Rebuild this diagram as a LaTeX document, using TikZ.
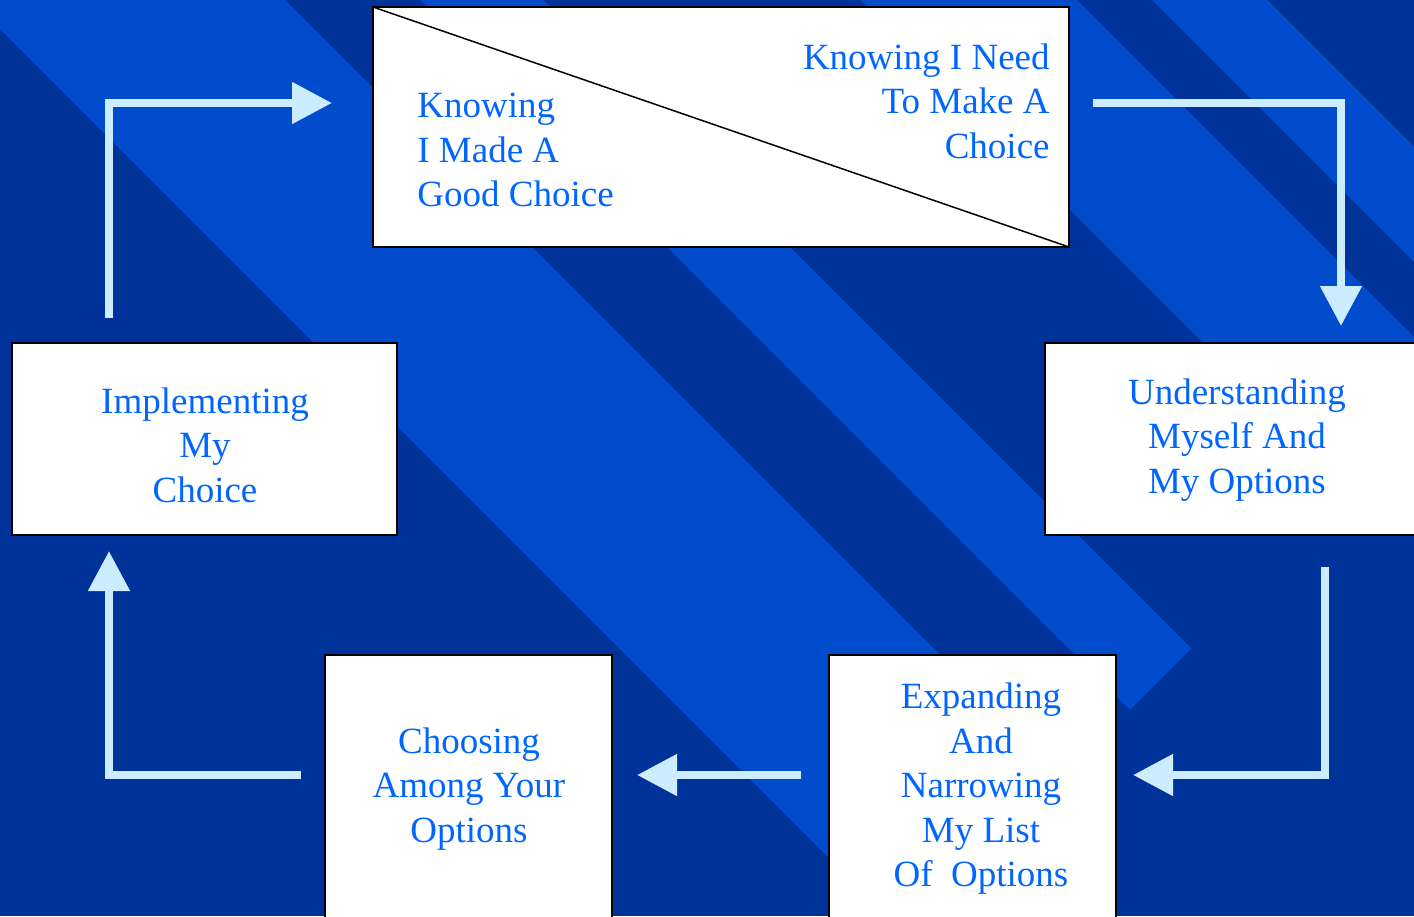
\documentclass[tikz,border=0pt]{standalone}
\usepackage{fontspec}
\setmainfont{Liberation Serif}
\usepackage{tikz}
\definecolor{bgdark}{RGB}{0,51,153}
\definecolor{bglight}{RGB}{0,76,204}
\definecolor{flowcol}{RGB}{204,236,255}
\definecolor{textblue}{RGB}{0,102,255}
\usetikzlibrary{calc, arrows.meta}
\tikzset{%
  stage/.style={draw=black, line width=1pt, fill=white, rectangle, inner sep=0pt, outer sep=0pt},% white step box
  steptext/.style={text=textblue, inner sep=0pt, align=center,
    font=\fontsize{18.5pt}{22.25pt}\selectfont},% blue text in a box
  flow/.style={draw=flowcol, line width=4pt, -{Triangle[length=20pt, width=20pt]}},% light connector
  stripe/.style={fill=bglight, draw=none}% light diagonal band
}

\begin{document}
\begin{tikzpicture}[x=0.5pt, y=-0.5pt]
\useasboundingbox (0,0) rectangle (1414,916);
\clip (0,0) rectangle (1414,916);
% background
\fill[bgdark] (0,0) rectangle (1414,916);
\fill[stripe] (0,0) -- (285,0) -- (1062.5,777.5) -- (905.5,934.5) -- (0,29) -- cycle;
\fill[stripe] (420,0) -- (543,0) -- (1191.5,648.5) -- (1130,710) -- cycle;
\fill[stripe] (860,0) -- (1077,0) -- (1458.5,381.5) -- (1350,490) -- cycle;
\fill[stripe] (1152,0) -- (1267,0) -- (1500,233) -- (1500,348) -- cycle;

% boxes
\node[stage, minimum width=348pt, minimum height=120pt] (know) at (721,127) {};
\node[stage, minimum width=192.5pt, minimum height=96pt] (under) at (1237.5,439) {};
\node[stage, minimum width=143.5pt, minimum height=132.5pt] (expand) at (972.5,787.5) {};
\node[stage, minimum width=143.5pt, minimum height=132.5pt] (choose) at (468.5,787.5) {};
\node[stage, minimum width=192.5pt, minimum height=96pt] (impl) at (204.5,439) {};
\draw[line width=0.75pt] (know.north west) -- (know.south east);

\node[steptext, anchor=west, align=left] (knowL) at (417,150) {Knowing\\I Made A\\Good Choice};
\node[steptext, anchor=east, align=right] (knowR) at (1050,101) {Knowing I Need\\To Make A\\Choice};
\node[steptext] (underT) at (1237,440) {Understanding\\Myself And\\My Options};
\node[steptext] (expandT) at (981,789) {Expanding\\And\\Narrowing\\My List\\Of~ Options};
\node[steptext] (chooseT) at (469,789) {Choosing\\Among Your\\Options};
\node[steptext] (implT) at (205,445) {Implementing\\My\\Choice};

% cycle arrows
\draw[flow] ($(impl.north)+(-95.5,-25)$) |- ($(know.west)+(-41,-24)$);
\draw[flow] ($(know.east)+(24,-24)$) -| ($(under.north)+(103.5,-17)$);
\draw[flow] ($(under.south)+(87.5,32)$) |- ($(expand.east)+(17,-12.5)$);
\draw[flow] ($(expand.west)+(-28,-12.5)$) -- ($(choose.east)+(25,-12.5)$);
\draw[flow] ($(choose.west)+(-24,-12.5)$) -| ($(impl.south)+(-95.5,16)$);
\end{tikzpicture}
\end{document}
